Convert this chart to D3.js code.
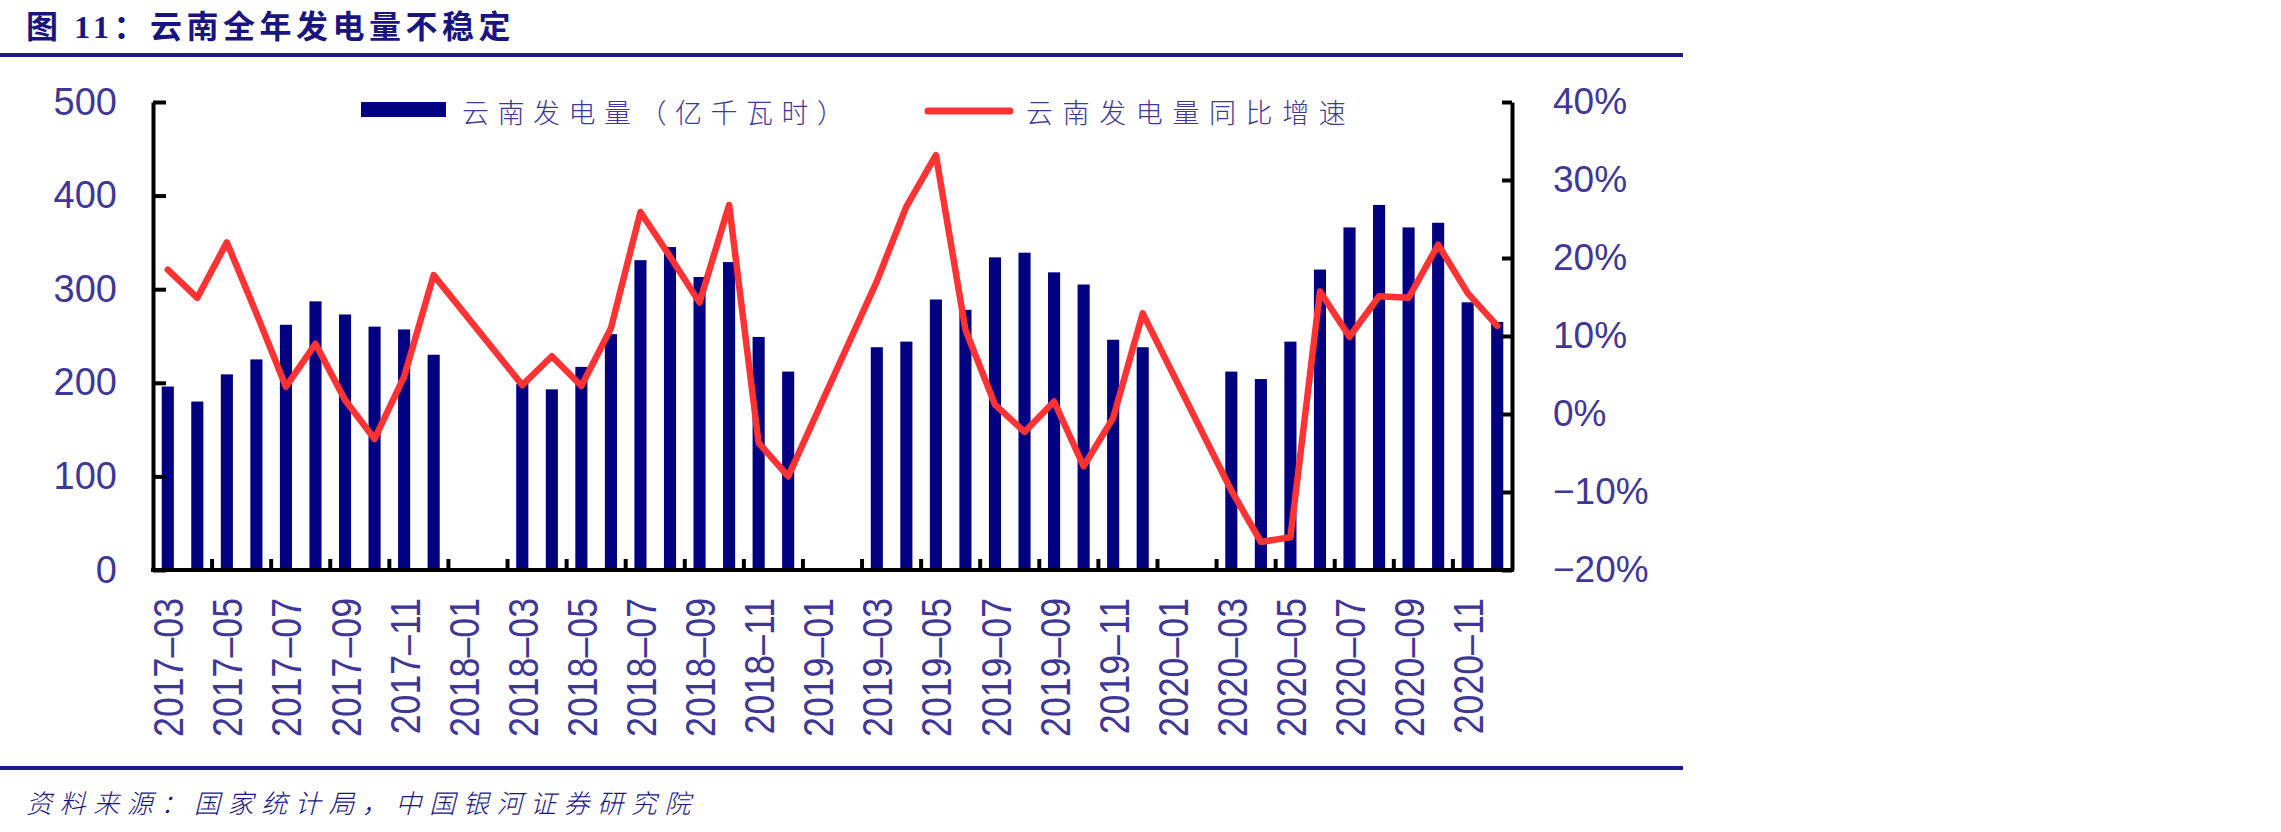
<!DOCTYPE html>
<html>
<head>
<meta charset="utf-8">
<script src="https://cdn.jsdelivr.net/npm/d3@7"></script>
<style>
  html, body { margin: 0; padding: 0; background: #ffffff; }
  svg { display: block; }
</style>
</head>
<body>
<svg id="chart" width="2281" height="832"></svg>
<script>
// ---------------- data ----------------
const categories = [
  "2017-03","2017-04","2017-05","2017-06","2017-07","2017-08","2017-09","2017-10","2017-11","2017-12",
  "2018-01","2018-02","2018-03","2018-04","2018-05","2018-06","2018-07","2018-08","2018-09","2018-10","2018-11","2018-12",
  "2019-01","2019-02","2019-03","2019-04","2019-05","2019-06","2019-07","2019-08","2019-09","2019-10","2019-11","2019-12",
  "2020-01","2020-02","2020-03","2020-04","2020-05","2020-06","2020-07","2020-08","2020-09","2020-10","2020-11","2020-12"
];
// 云南发电量（亿千瓦时）
const generation = [
  196, 180, 209, 225, 262, 287, 273, 260, 257, 230,
  null, null, 199, 193, 217, 252, 331, 345, 313, 329, 249, 212,
  null, null, 238, 244, 289, 278, 334, 339, 318, 305, 246, 238,
  null, null, 212, 204, 244, 321, 366, 390, 366, 371, 286, 265
];
// 云南发电量同比增速 (%)
const growth = [
  18.5, 14.9, 22.0, 12.9, 3.5, 9.0, 1.8, -3.2, 4.8, 17.8,
  null, null, 3.7, 7.4, 3.6, 11.0, 25.9, 20.2, 14.3, 26.8, -3.7, -8.0,
  null, null, 17.0, 26.6, 33.2, 10.8, 1.2, -2.3, 1.6, -6.7, -0.5, 12.9,
  null, null, -9.8, -16.4, -15.8, 15.7, 9.9, 15.1, 14.9, 21.7, 15.5, 11.3
];
const leftTicks = [0, 100, 200, 300, 400, 500];
const rightTicks = [-20, -10, 0, 10, 20, 30, 40];
const xTickLabels = categories.filter((d, i) => i % 2 === 0).map(d => d.replace("-", "–"));
const titleText = ["图 ", "11", "：云南全年发电量不稳定"];
const legendLabels = ["云南发电量（亿千瓦时）", "云南发电量同比增速"];
const sourceText = "资料来源：国家统计局，中国银河证券研究院";

// ---------------- style ----------------
const NAVY = "#000080";
const RED = "#FF3333";
const LABEL = "#3F3797";
const TITLE = "#1A1480";
const CJK = "'Noto Sans CJK SC', 'Noto Sans', sans-serif";
const LAT = "'Liberation Sans', Arial, sans-serif";

const svg = d3.select("#chart");
svg.append("rect").attr("width", 2281).attr("height", 832).attr("fill", "#fff");

const plotLeft = 153, plotRight = 1512, plotTop = 102, plotBottom = 570;

const x = d3.scaleBand().domain(categories).range([plotLeft, plotRight])
  .paddingInner(0.59).paddingOuter(0.295);
const yL = d3.scaleLinear().domain([0, 500]).range([plotBottom, plotTop]);
const yR = d3.scaleLinear().domain([-20, 40]).range([plotBottom, plotTop]);
const step = x.step();
const gap = step - x.bandwidth();

// ---------------- title & rules ----------------
const title = svg.append("text").attr("x", 26).attr("y", 38)
  .attr("fill", TITLE).attr("font-size", 32).attr("font-weight", "bold")
  .style("letter-spacing", "4.5px");
title.append("tspan").attr("font-family", CJK).text(titleText[0]);
title.append("tspan").attr("font-family", "'Liberation Serif', serif").text(titleText[1]);
title.append("tspan").attr("font-family", CJK).text(titleText[2]);

svg.append("rect").attr("x", 0).attr("y", 53).attr("width", 1683).attr("height", 4).attr("fill", "#1F1A8C");
svg.append("rect").attr("x", 0).attr("y", 766).attr("width", 1683).attr("height", 4).attr("fill", "#1F1A8C");

svg.append("text").attr("x", 26).attr("y", 801)
  .attr("dominant-baseline", "central")
  .attr("fill", TITLE).attr("font-family", CJK).attr("font-size", 26)
  .attr("font-style", "italic").attr("font-weight", 300)
  .style("letter-spacing", "7.6px")
  .text(sourceText);

// ---------------- bars ----------------
const barData = categories.map((c, i) => ({c, v: generation[i]})).filter(d => d.v !== null);
svg.append("g").selectAll("rect").data(barData).join("rect")
  .attr("x", d => x(d.c))
  .attr("width", x.bandwidth())
  .attr("y", d => yL(d.v))
  .attr("height", d => yL(0) - yL(d.v))
  .attr("fill", NAVY);

// ---------------- axes ----------------
const axL = svg.append("g").attr("transform", `translate(${plotLeft},0)`)
  .call(d3.axisLeft(yL).tickValues(leftTicks).tickSizeInner(-13).tickSizeOuter(0).tickPadding(36));
axL.select(".domain").attr("stroke", "#000").attr("stroke-width", 4);
axL.selectAll(".tick line").attr("stroke", "#000").attr("stroke-width", 4);
axL.selectAll(".tick text").attr("fill", LABEL).attr("font-family", LAT).attr("font-size", 38);

const axR = svg.append("g").attr("transform", `translate(${plotRight},0)`)
  .call(d3.axisRight(yR).tickValues(rightTicks).tickSizeInner(-10).tickSizeOuter(0).tickPadding(41)
    .tickFormat(d => (d < 0 ? "−" : "") + Math.abs(d) + "%"));
axR.select(".domain").attr("stroke", "#000").attr("stroke-width", 4);
axR.selectAll(".tick line").attr("stroke", "#000").attr("stroke-width", 4);
axR.selectAll(".tick text").attr("fill", LABEL).attr("font-family", LAT).attr("font-size", 37);

// x axis line
svg.append("line").attr("x1", plotLeft - 2).attr("x2", plotRight + 2).attr("y1", plotBottom).attr("y2", plotBottom)
  .attr("stroke", "#000").attr("stroke-width", 4);
// x ticks at category boundaries every 2 months
const tickCats = categories.filter((d, i) => i > 0 && i % 2 === 0);
svg.append("g").selectAll("line").data(tickCats).join("line")
  .attr("x1", d => x(d) - gap / 2).attr("x2", d => x(d) - gap / 2)
  .attr("y1", plotBottom).attr("y2", plotBottom - 11)
  .attr("stroke", "#000").attr("stroke-width", 4);
// x labels
const labelCats = categories.filter((d, i) => i % 2 === 0);
svg.append("g").selectAll("text").data(labelCats).join("text")
  .attr("transform", d => `translate(${x(d) + x.bandwidth() / 2 + 1},598) rotate(-90) scale(0.85,1)`)
  .attr("text-anchor", "end").attr("dominant-baseline", "central")
  .attr("fill", LABEL).attr("font-family", LAT).attr("font-size", 42)
  .text((d, i) => xTickLabels[i]);

// ---------------- line ----------------
const lineData = categories.map((c, i) => ({c, v: growth[i]})).filter(d => d.v !== null);
svg.append("path").datum(lineData)
  .attr("d", d3.line().x(d => x(d.c) + x.bandwidth() / 2).y(d => yR(d.v)))
  .attr("fill", "none").attr("stroke", RED).attr("stroke-width", 6.5)
  .attr("stroke-linejoin", "round").attr("stroke-linecap", "round");

// ---------------- legend ----------------
svg.append("rect").attr("x", 361).attr("y", 102).attr("width", 85).attr("height", 15).attr("fill", NAVY);
svg.append("text").attr("x", 462).attr("y", 111).attr("dominant-baseline", "central")
  .attr("fill", LABEL).attr("font-family", CJK).attr("font-size", 27).attr("font-weight", 300)
  .style("letter-spacing", "8.5px").text(legendLabels[0]);
svg.append("line").attr("x1", 928).attr("x2", 1010).attr("y1", 111).attr("y2", 111)
  .attr("stroke", RED).attr("stroke-width", 7).attr("stroke-linecap", "round");
svg.append("text").attr("x", 1026).attr("y", 111).attr("dominant-baseline", "central")
  .attr("fill", LABEL).attr("font-family", CJK).attr("font-size", 27).attr("font-weight", 300)
  .style("letter-spacing", "9.6px").text(legendLabels[1]);
</script>
</body>
</html>
